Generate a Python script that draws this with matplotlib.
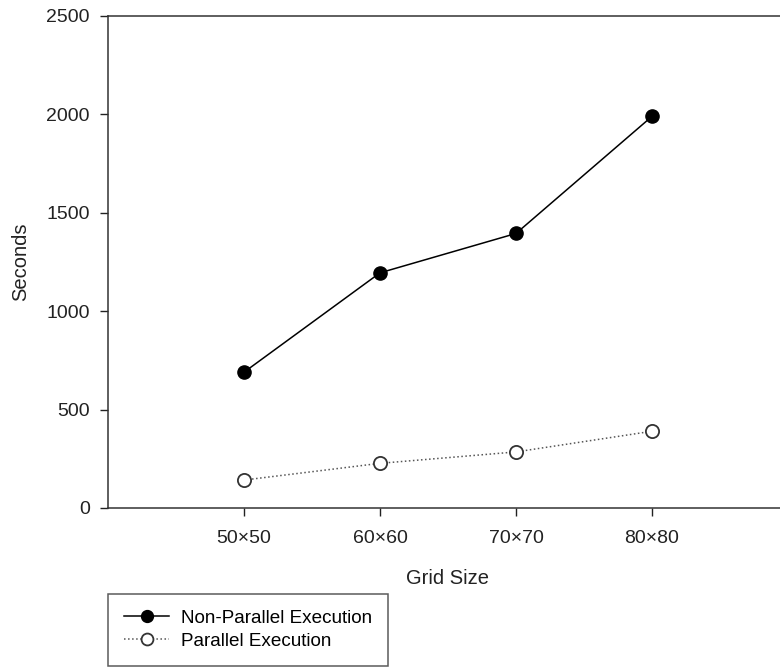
import matplotlib

matplotlib.use("Agg")
import matplotlib.pyplot as plt

plt.rcParams["font.family"] = ["Liberation Sans", "DejaVu Sans"]

grid_sizes = ["50×50", "60×60", "70×70", "80×80"]
non_parallel = [690, 1195, 1395, 1990]
parallel = [142, 227, 285, 390]

x = list(range(1, len(grid_sizes) + 1))

fig = plt.figure(figsize=(7.8, 6.68), dpi=100)
ax = fig.add_axes([108 / 780, 160 / 668, 680 / 780, 492 / 668])

ax.plot(x, non_parallel, "-o", color="black", lw=1.1, ms=9.5,
        mfc="black", mec="black", label="Non-Parallel Execution")
ax.plot(x, parallel, ":", color="#555555", lw=1.1, marker="o", ms=9.5,
        mfc="white", mec="#333333", mew=1.3, label="Parallel Execution")

ax.set_xlim(0, 5)
ax.set_ylim(0, 2500)
ax.set_xticks(x)
ax.set_xticklabels(grid_sizes)
ax.set_yticks([0, 500, 1000, 1500, 2000, 2500])
ax.tick_params(direction="out", length=6, width=1, labelsize=14, colors="#222222", pad=7)
ax.tick_params(axis="x", pad=10)
for side in ("left", "bottom", "top", "right"):
    ax.spines[side].set_color("#333333")
    ax.spines[side].set_linewidth(1.1)

ax.set_xlabel("Grid Size", fontsize=14.5, labelpad=16, color="#222222")
ax.set_ylabel("Seconds", fontsize=14.5, labelpad=12, color="#222222")

handles, labels = ax.get_legend_handles_labels()
leg = fig.legend(handles, labels, loc="lower left",
                 bbox_to_anchor=(108 / 780, 2 / 668), bbox_transform=fig.transFigure,
                 fontsize=13.6, frameon=True, fancybox=False, edgecolor="#333333",
                 handlelength=2.4, labelspacing=0.3, borderpad=0.85, borderaxespad=0,
                 handletextpad=0.6, markerscale=0.9)
leg.get_frame().set_linewidth(1.1)

fig.savefig("out.png", dpi=100)
